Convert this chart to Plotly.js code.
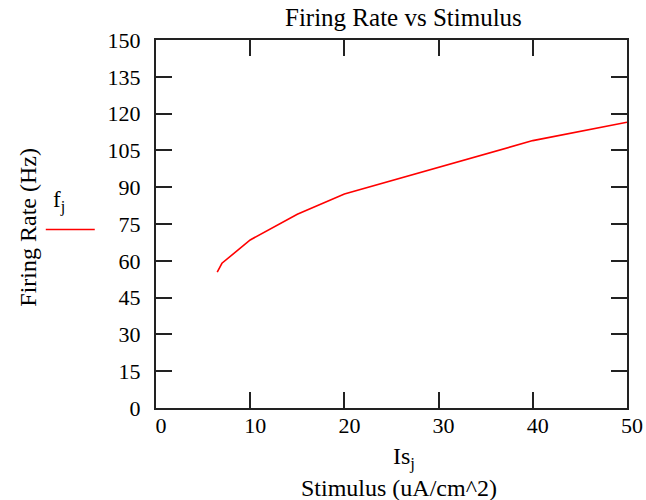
<!DOCTYPE html>
<html>
<head>
<meta charset="utf-8">
<script src="https://cdn.plot.ly/plotly-3.0.1.min.js"></script>
<style>html,body{margin:0;padding:0;background:#fff;}#chart{width:646px;height:500px;}</style>
</head>
<body>
<div id="chart"></div>
<script>
var stimulus = [6.5, 7, 10, 15, 20, 30, 40, 50];
var firingRate = [55.4, 59.0, 68.5, 79.0, 87.2, 98.2, 109.0, 116.5];
var xTicks = [0, 10, 20, 30, 40, 50];
var yTicks = [0, 15, 30, 45, 60, 75, 90, 105, 120, 135, 150];

var FONT = '"Liberation Serif", "Times New Roman", serif';
var TICK_FS = 22;
var LABEL_FS = 24;
var TITLE_FS = 25;
var axisColor = '#222222';

var trace = {
  x: stimulus,
  y: firingRate,
  type: 'scatter',
  mode: 'lines',
  line: {color: '#ff0000', width: 1.6},
  showlegend: false,
  hoverinfo: 'skip'
};

var layout = {
  width: 646,
  height: 500,
  margin: {l: 156, r: 19, t: 40, b: 92, pad: 0},
  paper_bgcolor: '#ffffff',
  plot_bgcolor: '#ffffff',
  font: {family: FONT, size: TICK_FS, color: '#000000'},
  showlegend: false,
  xaxis: {
    range: [0, 50],
    tickvals: xTicks,
    ticktext: xTicks.map(String),
    ticks: 'inside',
    ticklen: 16,
    tickwidth: 2,
    tickcolor: axisColor,
    showline: true,
    linewidth: 2,
    linecolor: axisColor,
    mirror: 'allticks',
    showgrid: false,
    zeroline: false,
    ticklabelshift: 5,
    ticklabelstandoff: -3,
    tickfont: {family: FONT, size: TICK_FS, color: '#000'},
    fixedrange: true
  },
  yaxis: {
    range: [0, 150],
    tickvals: yTicks,
    ticktext: yTicks.map(String),
    ticks: 'inside',
    ticklen: 16,
    tickwidth: 2,
    tickcolor: axisColor,
    showline: true,
    linewidth: 2,
    linecolor: axisColor,
    mirror: 'allticks',
    showgrid: false,
    zeroline: false,
    ticklabelstandoff: 9,
    tickfont: {family: FONT, size: TICK_FS, color: '#000'},
    fixedrange: true
  },
  annotations: [
    {text: 'Firing Rate vs Stimulus', xref: 'paper', yref: 'paper', x: 0.525, y: 1, yshift: 7,
     xanchor: 'center', yanchor: 'bottom', showarrow: false, font: {family: FONT, size: TITLE_FS, color: '#000'}},
    {text: 'Firing Rate (Hz)', xref: 'paper', yref: 'paper', x: 0, xshift: -128, y: 0.49,
     xanchor: 'center', yanchor: 'middle', textangle: -90, showarrow: false, font: {family: FONT, size: LABEL_FS, color: '#000'}},
    {text: 'f<sub>j</sub>', xref: 'paper', yref: 'paper', x: 0, xshift: -97, y: 0.56,
     xanchor: 'center', yanchor: 'middle', showarrow: false, font: {family: FONT, size: 23, color: '#000'}},
    {text: 'Is<sub>j</sub>', xref: 'paper', yref: 'paper', x: 0.526, y: 0, yshift: -50, borderpad: 0,
     xanchor: 'center', yanchor: 'middle', showarrow: false, font: {family: FONT, size: LABEL_FS, color: '#000'}},
    {text: 'Stimulus (uA/cm^2)', xref: 'paper', yref: 'paper', x: 0.515, y: 0, yshift: -80, borderpad: 0,
     xanchor: 'center', yanchor: 'middle', showarrow: false, font: {family: FONT, size: LABEL_FS, color: '#000'}}
  ],
  shapes: [
    {type: 'line', xref: 'paper', yref: 'paper', x0: -0.234, x1: -0.13, y0: 0.485, y1: 0.485,
     line: {color: '#ff0000', width: 1.6}}
  ]
};

Plotly.newPlot('chart', [trace], layout, {staticPlot: true, displayModeBar: false});
</script>
</body>
</html>
